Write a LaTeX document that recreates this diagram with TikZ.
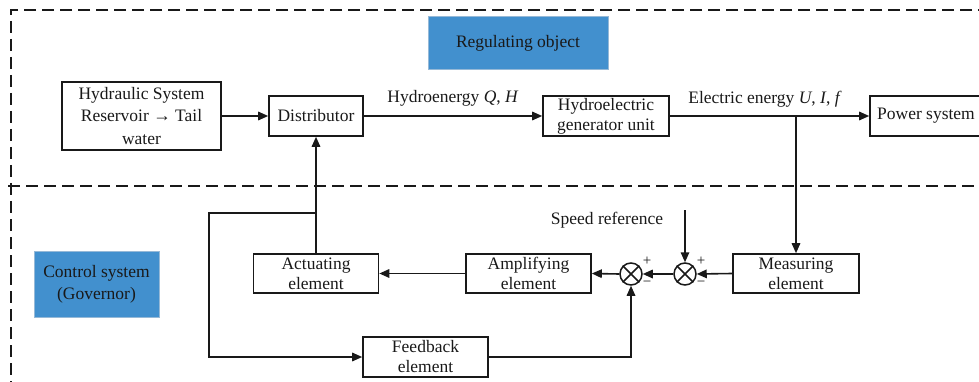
\documentclass[tikz,border=0pt]{standalone}
\usepackage{fontspec}
\setmainfont{Liberation Serif}
\usetikzlibrary{arrows.meta}
\definecolor{blk}{rgb}{0.1,0.1,0.1}
\definecolor{tagblue}{RGB}{66,144,206}
\definecolor{tagedge}{RGB}{150,185,215}
\tikzset{
  arr/.style={line width=1.6pt, draw=blk, -{Triangle[length=10pt,width=8.5pt]}},
  ln/.style={line width=1.5pt, draw=blk},
  blockbox/.style={draw=blk, line width=1.6pt, inner sep=0pt, align=center,
     font=\fontsize{17.5}{20}\selectfont, text=blk},
  tagbox/.style={fill=tagblue, draw=tagedge, line width=1pt, inner sep=0pt, align=center,
     font=\fontsize{17.5}{22}\selectfont, text=blk},
  lbl/.style={inner sep=0pt, font=\fontsize{17.5}{20}\selectfont, text=blk},
  sign/.style={inner sep=0pt, font=\fontsize{15}{15}\selectfont, text=blk},
  sumnode/.style={circle, draw=blk, line width=1.5pt, minimum size=22pt, inner sep=0pt},
  frame/.style={line width=1.4pt, draw=blk, dash pattern=on 12pt off 6pt}
}
\begin{document}
\begin{tikzpicture}[x=1pt,y=-1pt]
\useasboundingbox (0,0) rectangle (979,382);
% dashed frames
\draw[frame] (990,10) -- (11,10) -- (11,395);
\draw[frame] (8,186) -- (990,186);
% tags
\node[tagbox, minimum width=180pt, minimum height=53pt] (reg) at (518,43.5) {Regulating object};
\node[tagbox, minimum width=125pt, minimum height=66pt] (ctrl) at (96.5,284) {Control system\\(Governor)};
% blocks
\node[blockbox, minimum width=159pt, minimum height=68pt, font=\fontsize{17.5}{22.5}\selectfont] (hyd) at (141.5,116) {Hydraulic System\\Reservoir → Tail\\water};
\node[blockbox, minimum width=94pt, minimum height=40pt] (dist) at (316,116) {Distributor};
\node[blockbox, minimum width=126pt, minimum height=40pt] (gen) at (606,116) {Hydroelectric\\generator unit};
\node[blockbox, minimum width=112pt, minimum height=40pt] (pow) at (926,116) {Power system};
\node[blockbox, minimum width=125pt, minimum height=39pt] (act) at (316,273.5) {Actuating\\element};
\node[blockbox, minimum width=125pt, minimum height=39pt] (amp) at (528.5,273.5) {Amplifying\\element};
\node[blockbox, minimum width=126pt, minimum height=39pt] (meas) at (796,273.5) {Measuring\\element};
\node[blockbox, minimum width=125pt, minimum height=40pt] (fb) at (425.5,357) {Feedback\\element};
% summing junctions
\node[sumnode] (s1) at (631,274) {};
\node[sumnode] (s2) at (685,274) {};
\draw[ln] (s1.north west) -- (s1.south east) (s1.north east) -- (s1.south west);
\draw[ln] (s2.north west) -- (s2.south east) (s2.north east) -- (s2.south west);
\node[sign] (p1) at (647,261) {+};
\node[sign] (m1) at (647,284) {−};
\node[sign] (p2) at (701,261) {+};
\node[sign] (m2) at (701,284) {−};
% labels
\node[lbl] (lhyd) at (453,98) {Hydroenergy \textit{Q}, \textit{H}};
\node[lbl] (lel) at (765,99) {Electric energy \textit{U}, \textit{I}, \textit{f}};
\node[lbl] (lsr) at (607,220) {Speed reference};
% coordinates
\coordinate (br) at (796,116);
\coordinate (sr) at (685,210);
\coordinate (jn) at (316,213);
\coordinate (c1) at (209,213);
\coordinate (c2) at (209,357);
% connectors
\draw[arr] (hyd.east) -- (dist.west);
\draw[arr] (dist.east) -- (gen.west);
\draw[arr] (gen.east) -- (pow.west);
\draw[arr] (br) -- (meas.north);
\draw[arr] (meas.west) -- (s2.east);
\draw[arr] (sr) -- (s2.north);
\draw[arr] (s2.west) -- (s1.east);
\draw[arr] (s1.west) -- (amp.east);
\draw[arr] (amp.west) -- (act.east);
\draw[arr] (act.north) -- (dist.south);
\draw[arr] (jn) -- (c1) -- (c2) -- (fb.west);
\draw[arr] (fb.east) -| (s1.south);
\end{tikzpicture}
\end{document}
